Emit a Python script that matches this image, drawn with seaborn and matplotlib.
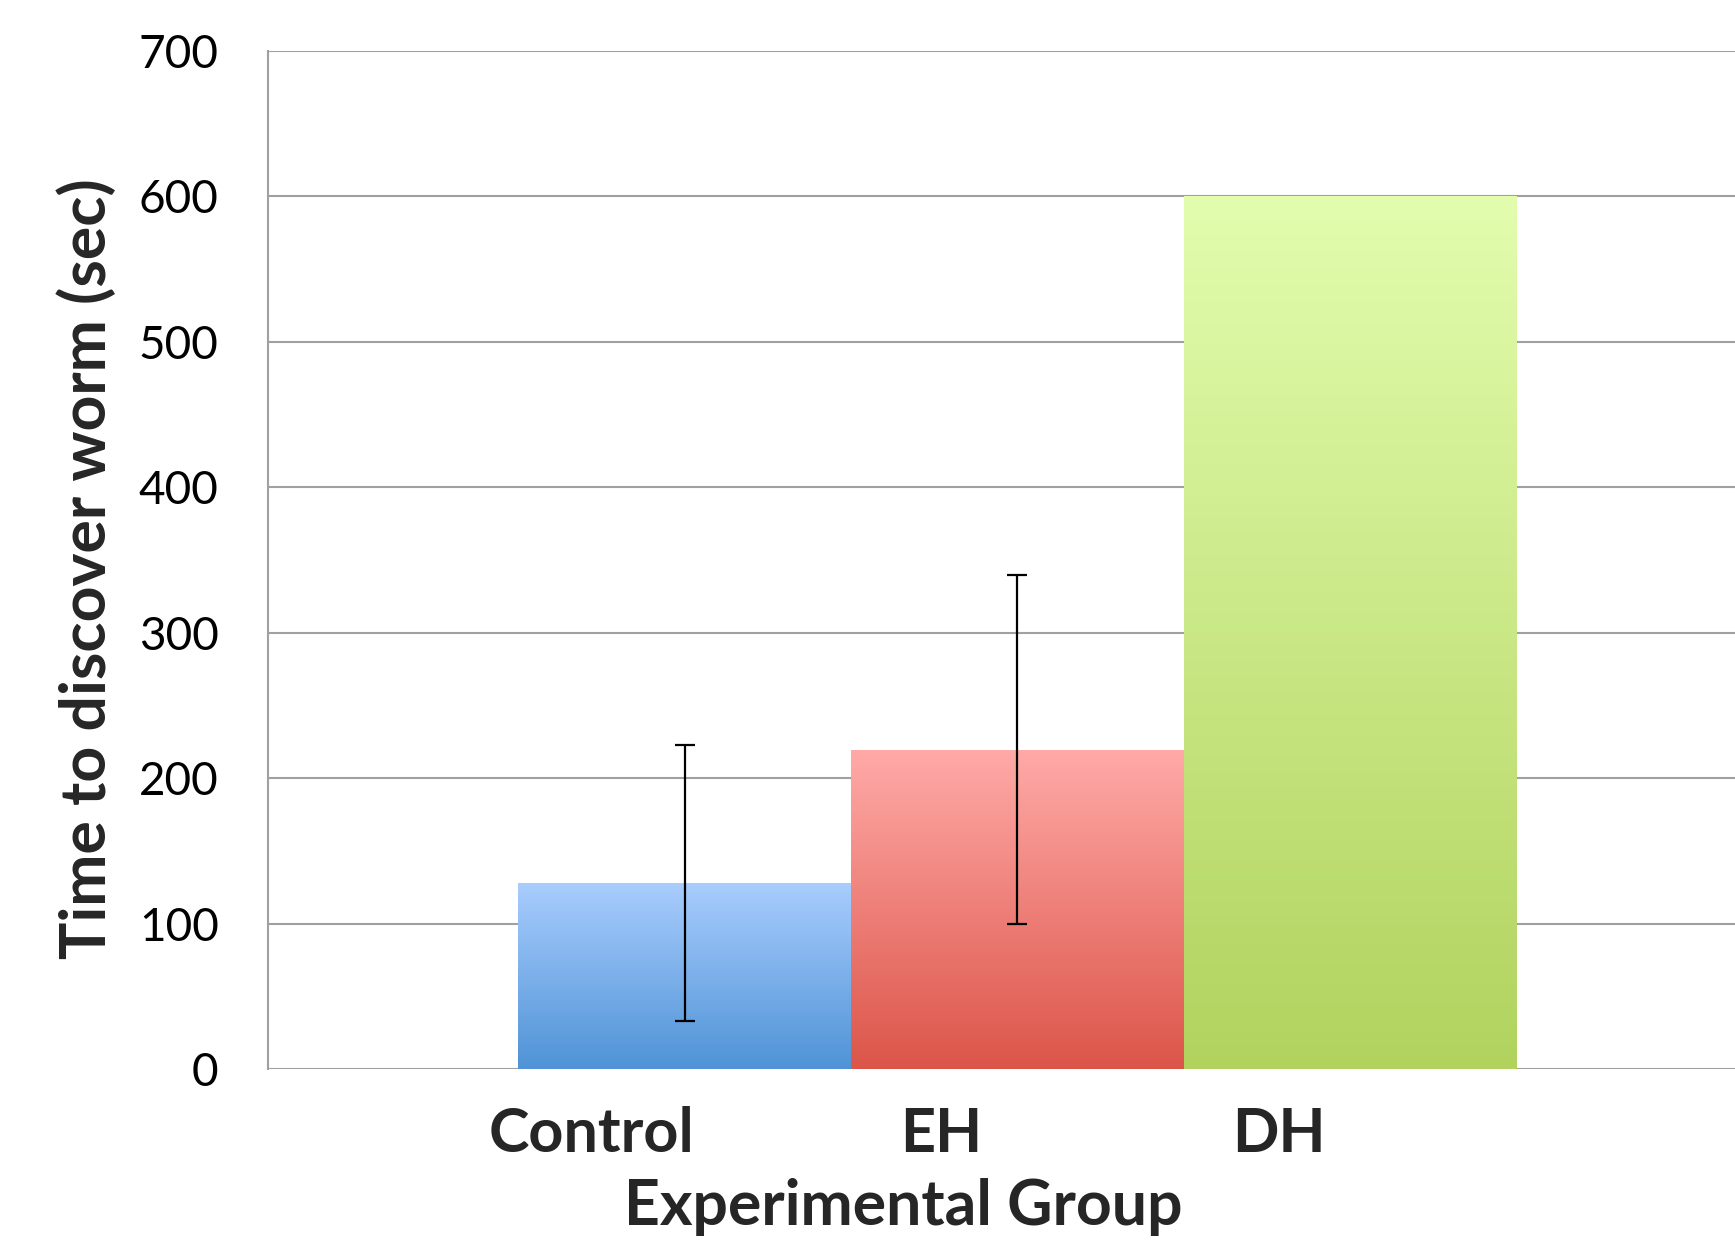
import numpy as np
import matplotlib
matplotlib.use("Agg")
import matplotlib.pyplot as plt
import matplotlib.transforms as mtransforms
from matplotlib.colors import LinearSegmentedColormap
import seaborn as sns
import pandas as pd

# data
groups = ["Control", "EH", "DH"]
mean_time = [128, 219.5, 600]
err_time = [95, 120, np.nan]   # DH has no error bar

# gradient colours per bar (top, bottom)
top_cols = ["#a9cdfe", "#ffaaa8", "#e2fdae"]
bot_cols = ["#4f93d6", "#dc5549", "#b1d35e"]
# the category labels sit left of the bar centres in the original
label_shift = [-0.93, -0.76, -0.72]

sns.set_style("white")
plt.rcParams["font.family"] = ["Lato", "DejaVu Sans"]

df = pd.DataFrame({"group": groups, "time": mean_time})

fig = plt.figure(figsize=(17.35, 12.43), dpi=100)
ax = fig.add_axes([268/1735, 1-1069/1243, 1-268/1735, (1069-51)/1243])

sns.barplot(data=df, x="group", y="time", ax=ax, width=1.0, errorbar=None,
            color="white", edgecolor="none", linewidth=0, zorder=2)

# gradient fill clipped to each bar
grad = np.linspace(0, 1, 256).reshape(-1, 1)
for p, ct, cb in zip(ax.patches, top_cols, bot_cols):
    x0, y0 = p.get_x(), p.get_y()
    w, h = p.get_width(), p.get_height()
    cmap = LinearSegmentedColormap.from_list("g", [ct, cb])
    im = ax.imshow(grad, cmap=cmap, aspect="auto", origin="upper",
                   extent=[x0, x0 + w, y0, y0 + h], zorder=3)
    im.set_clip_path(p)

ax.errorbar(np.arange(len(groups)), mean_time, yerr=err_time, fmt="none",
            ecolor="black", elinewidth=1.6, capsize=7, capthick=1.6, zorder=5)

ax.set_xlim(-1.251, 3.155)
ax.set_ylim(0, 700)
ax.set_yticks(range(0, 701, 100))

ax.yaxis.grid(True, color="#a0a0a0", linewidth=1.5, zorder=0)
ax.set_axisbelow(True)
for s in ["top", "right", "bottom"]:
    ax.spines[s].set_visible(False)
ax.spines["left"].set_color("#a0a0a0")
ax.spines["left"].set_linewidth(1.5)

ax.tick_params(axis="y", length=11.5, width=1.5, color="#a0a0a0", pad=24,
               labelsize=33, labelcolor="black")
ax.tick_params(axis="x", length=0, pad=27, labelsize=44)
for lab, dx in zip(ax.get_xticklabels(), label_shift):
    lab.set_fontweight("bold")
    lab.set_transform(lab.get_transform() +
                      mtransforms.ScaledTranslation(dx, 0, fig.dpi_scale_trans))

ax.set_xlabel("Experimental Group", fontsize=45, fontweight="bold")
ax.set_ylabel("Time to discover worm (sec)", fontsize=45, fontweight="bold")
ax.xaxis.label.set_va("center")
ax.yaxis.label.set_va("center")
ax.xaxis.set_label_coords(0.433, -0.136)
ax.yaxis.set_label_coords(-0.123, 0.492)

fig.savefig("out.png", dpi=100)
